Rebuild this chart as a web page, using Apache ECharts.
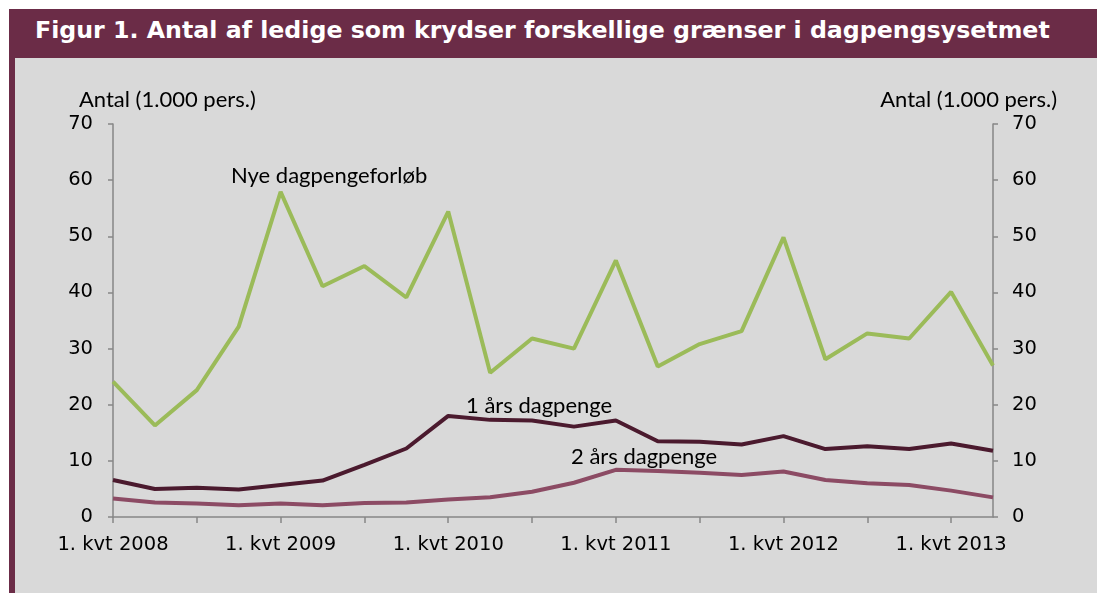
<!DOCTYPE html>
<html>
<head>
<meta charset="utf-8">
<script src="https://cdn.jsdelivr.net/npm/echarts@6/dist/echarts.min.js"></script>
<style>
html,body{margin:0;padding:0;background:#fff;width:1097px;height:593px;overflow:hidden;}
#bar{position:absolute;left:9px;top:9px;width:1088px;height:49px;background:#6B2C47;}
#title{position:absolute;left:35px;top:6px;height:49px;line-height:49px;color:#fff;font-family:"DejaVu Sans",Verdana,sans-serif;font-weight:bold;font-size:23.7px;white-space:nowrap;}
#border{position:absolute;left:9px;top:58px;width:6px;height:535px;background:#6B2C47;}
#panel{position:absolute;left:15px;top:58px;width:1082px;height:535px;background:#D9D9D9;}
#chart{position:absolute;left:0;top:0;width:1097px;height:593px;}
</style>
</head>
<body>
<div id="bar"></div>
<div id="title">Figur 1. Antal af ledige som krydser forskellige grænser i dagpengsysetmet</div>
<div id="border"></div>
<div id="panel"></div>
<div id="chart"></div>
<script>
const categories = [
  "1. kvt 2008","2. kvt 2008","3. kvt 2008","4. kvt 2008",
  "1. kvt 2009","2. kvt 2009","3. kvt 2009","4. kvt 2009",
  "1. kvt 2010","2. kvt 2010","3. kvt 2010","4. kvt 2010",
  "1. kvt 2011","2. kvt 2011","3. kvt 2011","4. kvt 2011",
  "1. kvt 2012","2. kvt 2012","3. kvt 2012","4. kvt 2012",
  "1. kvt 2013","2. kvt 2013"
];
const nyeDagpengeforlob = [24.1,16.3,22.6,33.9,57.9,41.1,44.7,39.1,54.4,25.7,31.8,30.0,45.7,26.8,30.8,33.1,49.8,28.1,32.7,31.8,40.1,27.0];
const aarsDagpenge1 = [6.6,5.0,5.2,4.9,5.7,6.5,9.3,12.2,18.0,17.3,17.2,16.1,17.2,13.5,13.4,12.9,14.4,12.1,12.6,12.1,13.1,11.8];
const aarsDagpenge2 = [3.3,2.6,2.4,2.1,2.4,2.1,2.5,2.6,3.1,3.5,4.5,6.1,8.4,8.2,7.9,7.5,8.1,6.6,6.0,5.7,4.7,3.5];
const yTicks = {min:0, max:70, interval:10};
const axisName = "Antal (1.000 pers.)";
const seriesLabels = ["Nye dagpengeforløb","1 års dagpenge","2 års dagpenge"];

const chart = echarts.init(document.getElementById('chart'), null, {renderer:'canvas'});
const tickFont = {fontFamily:'"DejaVu Sans", Verdana, sans-serif', fontSize:19.5, color:'#000'};
const calFont = '"Lato", "Open Sans", sans-serif';
const axisLineStyle = {color:'#868686', width:1.5};
function yAxis(pos, margin){
  return {
    type:'value', position:pos, min:yTicks.min, max:yTicks.max, interval:yTicks.interval,
    axisLine:{show:true, lineStyle:axisLineStyle},
    axisTick:{show:true, length:5, lineStyle:axisLineStyle},
    axisLabel:Object.assign({margin:margin}, tickFont),
    splitLine:{show:false}
  };
}
function note(text, pos){
  return {type:'text', x:pos[0], y:pos[1], style:{text:text, font:'22px '+calFont, fill:'#000', align:pos[2]||'left', verticalAlign:'middle'}};
}
chart.setOption({
  backgroundColor:'transparent',
  animation:false,
  grid:{left:113, right:104, top:124, bottom:76, containLabel:false},
  xAxis:{
    type:'category', data:categories, boundaryGap:false,
    axisLine:{show:true, lineStyle:axisLineStyle},
    axisTick:{show:true, length:6, interval:1, lineStyle:axisLineStyle},
    axisLabel:Object.assign({interval:3, margin:18}, tickFont)
  },
  yAxis:[yAxis('left', 20), yAxis('right', 19)],
  series:[
    {name:seriesLabels[0], type:'line', data:nyeDagpengeforlob, symbol:'none', lineStyle:{color:'#9BBB59', width:4}, z:3},
    {name:seriesLabels[1], type:'line', data:aarsDagpenge1, symbol:'none', lineStyle:{color:'#4B1A2E', width:4}, z:4},
    {name:seriesLabels[2], type:'line', data:aarsDagpenge2, symbol:'none', lineStyle:{color:'#8C4B64', width:4}, z:2}
  ],
  graphic:[
    note(axisName, [79, 100]),
    note(axisName, [1057, 100, 'right']),
    note(seriesLabels[0], [231, 176]),
    note(seriesLabels[1], [466, 406]),
    note(seriesLabels[2], [571, 457])
  ]
});
</script>
</body>
</html>
